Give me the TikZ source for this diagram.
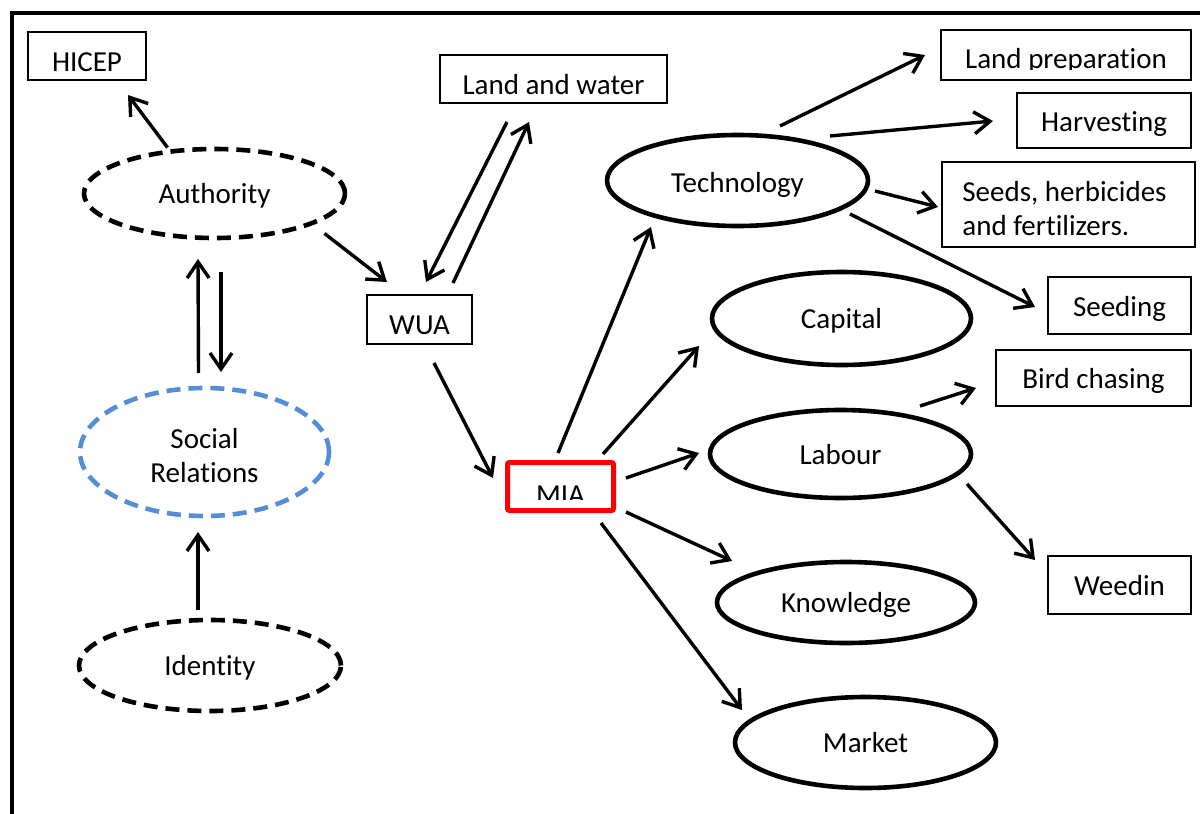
\documentclass[tikz,border=0pt]{standalone}
\usepackage{fontspec}
\setmainfont{Carlito}[Ligatures=NoCommon]
\usetikzlibrary{shapes.geometric,arrows.meta}
\definecolor{relblue}{RGB}{85,142,213}
\definecolor{miared}{RGB}{255,0,0}

\begin{document}
\begin{tikzpicture}[x=1pt,y=-1pt,
  every node/.style={font=\fontsize{29}{34}\selectfont, inner sep=0pt},
  lbl/.style={text height=#1, text depth=0pt},
  lbl/.default=20pt,
  box/.style={draw, rectangle, line width=2.2pt, lbl},
  oval/.style={draw, ellipse, line width=4.6pt, lbl},
  dashoval/.style={oval, dash pattern=on 14pt off 8pt},
  arr/.style={line width=3.4pt, -{Straight Barb[length=16pt,width=22pt]}}
]
\useasboundingbox (0,0) rectangle (1200,814);

% outer frame (runs off the right and bottom edges)
\draw[line width=4.5pt] (12,13) rectangle (1260,880);

% left column
\node[box, lbl=31pt, minimum width=118pt, minimum height=48pt] (hicep) at (87,56) {HICEP\hspace{7pt}};
\node[dashoval, minimum width=261pt, minimum height=89pt] (auth) at (214.5,193.5) {Authority};
\node[dashoval, draw=relblue, minimum width=249pt, minimum height=128pt] (soc) at (204.5,452) {};
\node[align=center, yshift=-4pt] (soclabel) at (soc.center) {Social\\Relations};
\node[dashoval, minimum width=262pt, minimum height=91pt] (ident) at (210,665.5) {Identity};

% middle column
\node[box, lbl=31pt, minimum width=227pt, minimum height=48pt] (land) at (553.5,79) {Land and water};
\node[box, lbl=29pt, minimum width=105pt, minimum height=49pt] (wua) at (419.5,319.5) {WUA};
\node[draw=miared, line width=5pt, rounded corners=2pt, minimum width=106pt, minimum height=48pt] (mia) at (560.5,486.5) {};
\begin{scope}
  \clip (505,460) rectangle (616,499);
  \node[lbl=19pt] (mialabel) at (560.5,494.5) {MIA};
\end{scope}

% resources
\node[oval, lbl=24pt, minimum width=261pt, minimum height=91pt] (tech) at (737.5,180.5) {Technology};
\node[oval, minimum width=259pt, minimum height=93pt] (cap) at (841.5,318.5) {Capital};
\node[oval, minimum width=261pt, minimum height=88pt] (lab) at (840.5,454) {Labour};
\node[oval, minimum width=258pt, minimum height=81pt] (know) at (846,602.5) {Knowledge};
\node[oval, minimum width=261pt, minimum height=91pt] (mark) at (865.5,742.5) {Market};

% activities
\node[box, minimum width=250pt, minimum height=50pt] (landprep) at (1066,55) {};
\begin{scope}
  \clip (940,29) rectangle (1192,69);
  \node[lbl=19pt] (landpreplabel) at (1066,59) {Land preparation};
\end{scope}
\node[box, lbl=22pt, minimum width=174pt, minimum height=55pt] (harv) at (1104,120.5) {Harvesting};
\node[box, minimum width=253pt, minimum height=85pt] (seeds) at (1068.5,204.5) {};
\node[align=left, xshift=-4pt, yshift=-4pt] (seedslabel) at (seeds.center) {Seeds, herbicides\\and fertilizers.};
\node[box, lbl=22pt, minimum width=143pt, minimum height=57pt] (seeding) at (1119.5,305.5) {Seeding};
\node[box, minimum width=195pt, minimum height=56pt] (bird) at (1093.5,378) {Bird chasing};
\node[box, minimum width=143pt, minimum height=58pt] (weed) at (1119.5,585) {Weedin};

% connectors
\draw[arr] ([shift={(-47,-46)}]auth.center) -- ([shift={(41,39)}]hicep.center);
\draw[arr] ([shift={(110,40)}]auth.center) -- ([shift={(-32.5,-37.5)}]wua.center);
\draw[arr] ([shift={(-6,-79)}]soc.center) -- ([shift={(-16.5,65.5)}]auth.center);
\draw[arr] ([shift={(6.5,78.5)}]auth.center) -- ([shift={(16.5,-80)}]soc.center);
\draw[arr] ([shift={(-12,-55.5)}]ident.center) -- ([shift={(-6.5,80)}]soc.center);
\draw[arr] ([shift={(-46.5,43)}]land.center) -- ([shift={(6.5,-37.5)}]wua.center);
\draw[arr] ([shift={(33.5,-36.5)}]wua.center) -- ([shift={(-24.5,43)}]land.center);
\draw[arr] ([shift={(14.5,43.5)}]wua.center) -- ([shift={(-67.5,-8.5)}]mia.center);
\draw[arr] ([shift={(-2.5,-33.5)}]mia.center) -- ([shift={(-86.5,46.5)}]tech.center);
\draw[arr] ([shift={(42.5,-32.5)}]mia.center) -- ([shift={(-142.5,27.5)}]cap.center);
\draw[arr] ([shift={(65.5,-8.5)}]mia.center) -- ([shift={(-141.5,-1)}]lab.center);
\draw[arr] ([shift={(65.5,25.5)}]mia.center) -- ([shift={(-114,-41.5)}]know.center);
\draw[arr] ([shift={(40.5,36.5)}]mia.center) -- ([shift={(-123.5,-32.5)}]mark.center);
\draw[arr] ([shift={(42.5,-54.5)}]tech.center) -- ([shift={(-141,0)}]landprep.center);
\draw[arr] ([shift={(92.5,-44.5)}]tech.center) -- ([shift={(-111,0.5)}]harv.center);
\draw[arr] ([shift={(137.5,10.5)}]tech.center) -- ([shift={(-130.5,2.5)}]seeds.center);
\draw[arr] ([shift={(112.5,33.5)}]tech.center) -- ([shift={(-84.5,1.5)}]seeding.center);
\draw[arr] ([shift={(79.5,-48)}]lab.center) -- ([shift={(-117.5,10)}]bird.center);
\draw[arr] ([shift={(126.5,30)}]lab.center) -- ([shift={(-84.5,-25)}]weed.center);
\end{tikzpicture}
\end{document}
